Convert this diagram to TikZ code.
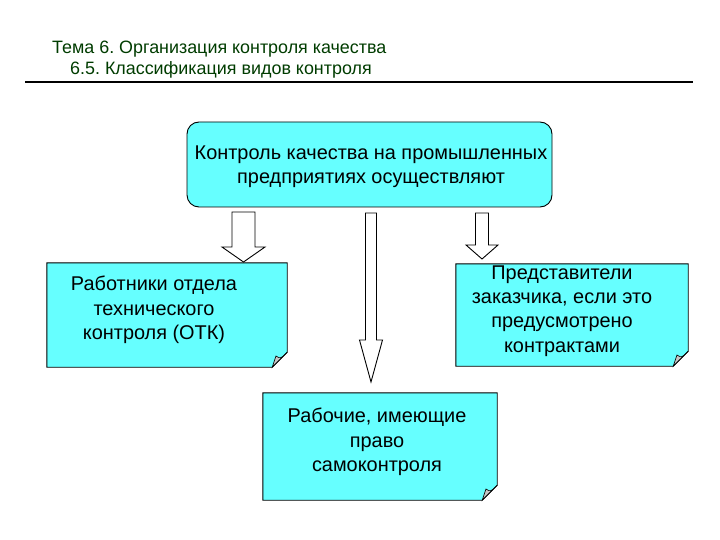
\documentclass[tikz,border=0pt]{standalone}
\usepackage{fontspec}
\setmainfont{Liberation Sans}
\usetikzlibrary{calc}
\definecolor{boxcyan}{RGB}{102,255,255}
\definecolor{titlegreen}{RGB}{0,60,0}
\frenchspacing
\tikzset{
  foldbox/.style={draw=black, line width=0.9pt, fill=boxcyan},
  fold/.style={draw=black, line width=0.6pt, fill=gray!45},
  txt/.style={align=center, font=\fontsize{19.9}{24.3}\selectfont, text=black, inner sep=0pt},
  ttl/.style={anchor=base west, text=titlegreen, font=\fontsize{17.9}{21}\selectfont, inner sep=0pt},
  blockarrow/.style={draw=black, line width=0.9pt, fill=white, line join=miter},
}
\newcommand{\foldframe}[2]{%
  \draw[foldbox] (#1.north west) -- (#1.north east) -- ([yshift=#2]#1.south east)
    -- ([xshift=-#2]#1.south east) -- (#1.south west) -- cycle;
  \draw[fold] ([yshift=#2]#1.south east) .. controls ([xshift=-0.45*#2,yshift=0.55*#2]#1.south east) .. ([xshift=-0.75*#2,yshift=0.75*#2]#1.south east)
    -- ([xshift=-#2]#1.south east) -- cycle;
}
\begin{document}
\begin{tikzpicture}[x=1pt,y=-1pt]
\useasboundingbox (0,0) rectangle (720,540);
% title
\node[ttl] (t1) at (52,54) {Тема 6. Организация контроля качества};
\node[ttl] (t2) at (70,75) {6.5. Классификация видов контроля};
\coordinate (r1) at (25,82);
\coordinate (r2) at (693,82);
\draw[line width=2pt] (r1) -- (r2);
% top box
\node[draw=black, line width=0.9pt, fill=boxcyan, rounded corners=12pt, minimum width=365pt, minimum height=85pt, inner sep=0pt] (top) at (369.5,164.5) {};
\node[txt] (toptxt) at (371,167) {Контроль качества на промышленных\\предприятиях осуществляют};
% boxes
\node[minimum width=240pt, minimum height=104pt, inner sep=0pt] (left) at (167,315) {};
\foldframe{left}{15pt}
\node[txt] (lefttxt) at (154,310) {Работники отдела\\технического\\контроля (ОТК)};
\node[minimum width=232pt, minimum height=102pt, inner sep=0pt] (right) at (572,315) {};
\foldframe{right}{15pt}
\node[txt] (righttxt) at (562,311) {Представители\\заказчика, если это\\предусмотрено\\контрактами};
\node[minimum width=234pt, minimum height=107pt, inner sep=0pt] (bot) at (380,446.5) {};
\foldframe{bot}{15pt}
\node[txt] (bottxt) at (377,442) {Рабочие, имеющие\\право\\самоконтроля};
% block arrows
\coordinate (a1s) at (243.5,212);
\coordinate (a1t) at (243.5,262);
\draw[blockarrow] ($(a1s)+(-11.5,0)$) -- ($(a1s)+(11.5,0)$) -- ($(a1t)+(11.5,-15)$) -- ($(a1t)+(21.5,-15)$)
  -- (a1t) -- ($(a1t)+(-21.5,-15)$) -- ($(a1t)+(-11.5,-15)$) -- cycle;
\coordinate (a2s) at (371,213);
\coordinate (a2t) at (371,382);
\draw[blockarrow] ($(a2s)+(-5.5,0)$) -- ($(a2s)+(5.5,0)$) -- ($(a2t)+(5.5,-42)$) -- ($(a2t)+(11.5,-42)$)
  -- (a2t) -- ($(a2t)+(-11.5,-42)$) -- ($(a2t)+(-5.5,-42)$) -- cycle;
\coordinate (a3s) at (482,213);
\coordinate (a3t) at (482,259);
\draw[blockarrow] ($(a3s)+(-6.5,0)$) -- ($(a3s)+(6.5,0)$) -- ($(a3t)+(6.5,-14)$) -- ($(a3t)+(16,-14)$)
  -- (a3t) -- ($(a3t)+(-16,-14)$) -- ($(a3t)+(-6.5,-14)$) -- cycle;
\end{tikzpicture}
\end{document}
